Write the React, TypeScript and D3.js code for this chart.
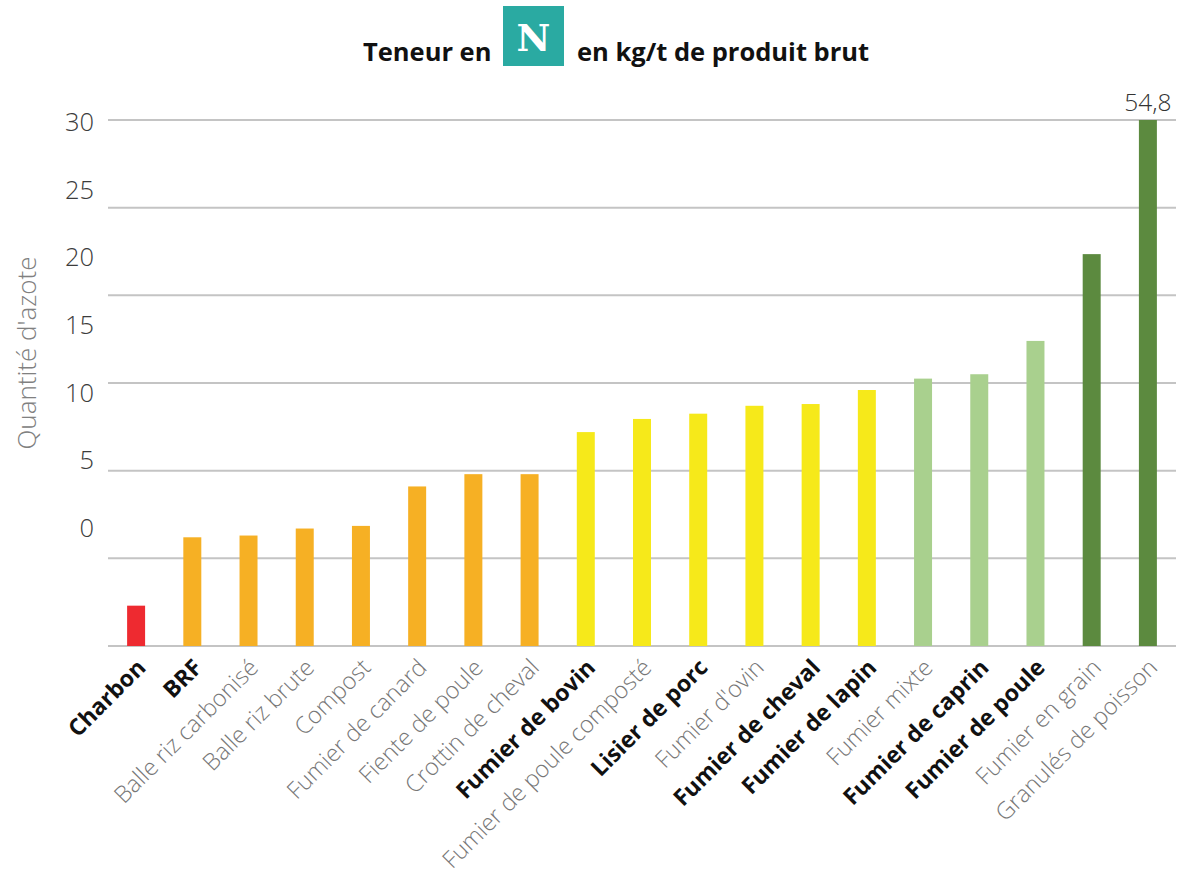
import {useEffect, useRef} from 'react'
import * as d3 from 'd3'

const categories = [
  'Charbon', 'BRF', 'Balle riz carbonisé', 'Balle riz brute', 'Compost',
  'Fumier de canard', 'Fiente de poule', 'Crottin de cheval', 'Fumier de bovin',
  'Fumier de poule composté', 'Lisier de porc', "Fumier d'ovin", 'Fumier de cheval',
  'Fumier de lapin', 'Fumier mixte', 'Fumier de caprin', 'Fumier de poule',
  'Fumier en grain', 'Granulés de poisson',
]
// values as drawn (last bar is cut off at the top of the axis)
const values = [
  2.3, 6.2, 6.3, 6.7, 6.85, 9.1, 9.8, 9.8, 12.2, 12.95, 13.25, 13.7, 13.8,
  14.6, 15.25, 15.5, 17.4, 22.35, 54.8,
]
const groups = [
  'r', 'o', 'o', 'o', 'o', 'o', 'o', 'o', 'y', 'y', 'y', 'y', 'y', 'y',
  'lg', 'lg', 'lg', 'dg', 'dg',
]
const boldLabels = [
  'Charbon', 'BRF', 'Fumier de bovin', 'Lisier de porc', 'Fumier de cheval',
  'Fumier de lapin', 'Fumier de caprin', 'Fumier de poule',
]
const tickValues = [0, 5, 10, 15, 20, 25, 30]
const clippedLabel = '54,8'

const colors: Record<string, string> = {
  r: '#ee2a30', o: '#f6b024', y: '#f6e91a', lg: '#a9d08e', dg: '#5c8a3f',
}

const W = 1179
const H = 879

export default function App() {
  const ref = useRef<SVGSVGElement>(null)

  useEffect(() => {
    if (!ref.current) return
    const svg = d3.select(ref.current)
    svg.selectAll('*').remove()

    const font = '"Open Sans", sans-serif'
    const x = d3.scaleBand<string>().domain(categories).range([108, 1176]).paddingInner(0.68).paddingOuter(0.34)
    const y = d3.scaleLinear().domain([0, 30]).range([646, 120]).clamp(true)
    // tick labels sit on their own (shorter) spacing in the original
    const yLabel = d3.scaleLinear().domain([0, 30]).range([537, 131])

    // title
    const title = svg.append('g').attr('font-family', font).attr('font-weight', 'bold').attr('font-size', 25.5).attr('fill', '#111')
    title.append('text').attr('x', 363).attr('y', 61).text('Teneur en')
    title.append('rect').attr('x', 503).attr('y', 6).attr('width', 61).attr('height', 60).attr('fill', '#2aaaa2')
    title.append('text').attr('x', 533.5).attr('y', 51).attr('text-anchor', 'middle')
      .attr('font-family', '"DejaVu Serif", serif').attr('font-weight', 'bold').attr('font-size', 37).attr('fill', '#fff').text('N')
    title.append('text').attr('x', 577).attr('y', 61).text('en kg/t de produit brut')

    // gridlines
    svg.append('g').selectAll('line').data(tickValues).join('line')
      .attr('x1', 108).attr('x2', 1176)
      .attr('y1', d => y(d)).attr('y2', d => y(d))
      .attr('stroke', '#c4c4c4').attr('stroke-width', 2)

    // tick labels
    svg.append('g').selectAll('text').data(tickValues).join('text')
      .attr('x', 94).attr('y', d => yLabel(d))
      .attr('text-anchor', 'end')
      .attr('font-family', font).attr('font-weight', 300).attr('font-size', 25.5).attr('fill', '#3c3c3c')
      .text(d => d)

    // axis title
    svg.append('text')
      .attr('transform', 'translate(36,353) rotate(-90)')
      .attr('text-anchor', 'middle')
      .attr('font-family', font).attr('font-weight', 300).attr('font-size', 26).attr('fill', '#808080')
      .text("Quantité d'azote")

    // bars
    svg.append('g').selectAll('rect').data(categories).join('rect')
      .attr('x', d => x(d)!)
      .attr('width', x.bandwidth())
      .attr('y', (d, i) => y(values[i]))
      .attr('height', (d, i) => y(0) - y(values[i]))
      .attr('fill', (d, i) => colors[groups[i]])

    // label above clipped bar
    const last = categories[categories.length - 1]
    svg.append('text')
      .attr('x', x(last)! + x.bandwidth() / 2).attr('y', 111)
      .attr('text-anchor', 'middle')
      .attr('font-family', font).attr('font-weight', 300).attr('font-size', 24.5).attr('fill', '#333')
      .text(clippedLabel)

    // category labels
    svg.append('g').selectAll('text').data(categories).join('text')
      .attr('transform', d => `translate(${x(d)! + x.bandwidth() / 2 + 11},${669}) rotate(-45)`)
      .attr('text-anchor', 'end')
      .attr('font-family', font)
      .attr('font-size', d => boldLabels.includes(d) ? 23 : 23.5)
      .attr('font-weight', d => boldLabels.includes(d) ? 'bold' : 300)
      .attr('fill', d => boldLabels.includes(d) ? '#111' : '#777')
      .text(d => d)
  }, [])

  return (
    <svg ref={ref} width={W} height={H} style={{position: 'absolute', left: 0, top: 0, background: '#fff'}} />
  )
}
